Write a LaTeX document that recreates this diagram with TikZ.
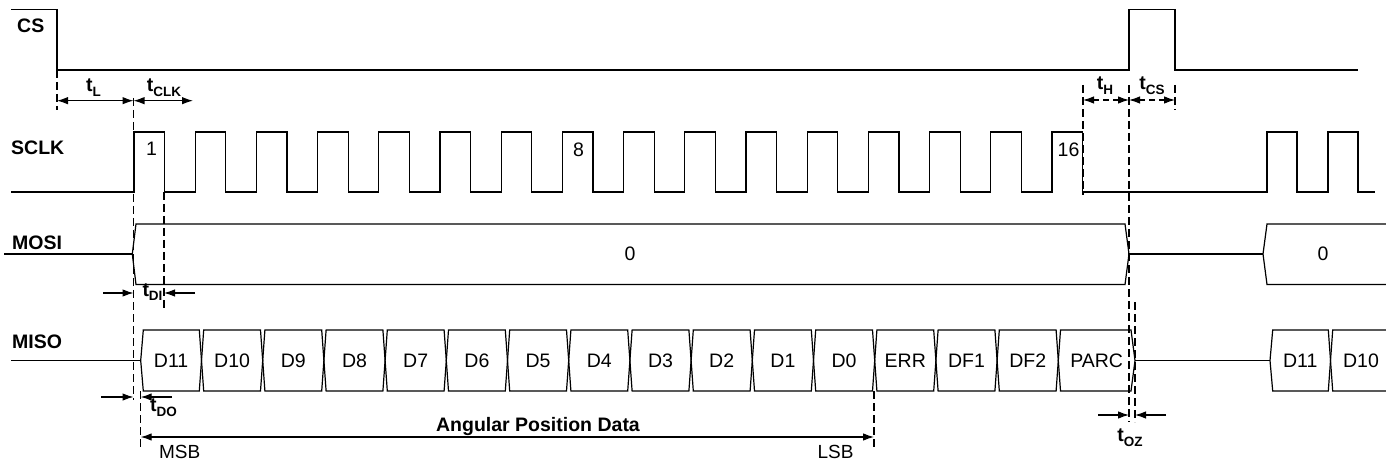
\documentclass[tikz,border=0pt]{standalone}
\usepackage{fontspec}
\setmainfont{Liberation Sans}
\usetikzlibrary{arrows.meta}
\newcommand{\tsb}[1]{\textbf{t}\raisebox{-4.5pt}{\fontsize{13.5}{14}\selectfont\bfseries #1}}
\begin{document}
\begin{tikzpicture}[x=1pt,y=-1pt,
  wave/.style={line width=1.2pt, line join=miter},
  guide/.style={line width=1.1pt, dash pattern=on 8pt off 4pt},
  dim/.style={line width=1.1pt, {Latex[length=11pt,width=7.5pt]}-{Latex[length=11pt,width=7.5pt]}},
  ddim/.style={dim, dash pattern=on 6pt off 4pt},
  pto/.style={line width=1.1pt, -{Latex[length=11pt,width=7.5pt]}},
  sig/.style={font=\fontsize{19.5}{22}\selectfont\bfseries, anchor=west, inner sep=0pt},
  val/.style={font=\fontsize{19.5}{22}\selectfont, inner sep=0pt},
  tl/.style={font=\fontsize{19.5}{22}\selectfont, inner sep=0pt, anchor=base},
]
\useasboundingbox (0,0) rectangle (1386,462);

% signal names
\node[sig] (ncs)   at (17,26)    {CS};
\node[sig] (nsclk) at (11,148)   {SCLK};
\node[sig] (nmosi) at (12,242.5) {MOSI};
\node[sig] (nmiso) at (12,341.5) {MISO};

% CS
\draw[wave] (11,9.5) -- (57,9.5) -- (57,70) -- (1129,70) -- (1129,9.5) -- (1175,9.5) -- (1175,70) -- (1358,70);

% SCLK
\draw[wave] (11,192) foreach \k in {0,...,15} { -- ({134+\k*61.2},192) -- ++(0,-60) -- ++(30.5,0) -- ++(0,60) }
  -- (1267,192) -- (1267,132) -- (1297,132) -- (1297,192) -- (1328,192) -- (1328,132) -- (1358,132) -- (1358,192) -- (1375,192);
\node[val] (c1)  at (151.5,149) {1};
\node[val] (c8)  at (578.5,149.5) {8};
\node[val] (c16) at (1068.5,150) {16};

% MOSI
\draw[wave] (4,254) -- (132.3,254);
\draw[wave] (132.3,254) -- (136,224) -- (1125,224) -- (1129,254) -- (1125,284.5) -- (136,284.5) -- cycle;
\node[val] (mosi0) at (630,254) {0};
\draw[wave] (1129,254) -- (1263,254);
\draw[wave] (1386,224) -- (1267,224) -- (1263,254) -- (1267,284.5) -- (1386,284.5);
\node[val] (mosi1) at (1323,254) {0};

% MISO
\draw[wave] (11,360.5) -- (140.7,360.5);
\foreach \lab [count=\i from 0] in {D11,D10,D9,D8,D7,D6,D5,D4,D3,D2,D1,D0,ERR,DF1,DF2,PARC} {
  \pgfmathsetmacro\L{\i==0 ? 140.7 : 201.5+(\i-1)*61.2}
  \pgfmathsetmacro\R{\i==15 ? 1135 : 201.5+\i*61.2}
  \pgfmathsetmacro\hl{\i==0 ? 2.6 : 2.2}
  \pgfmathsetmacro\hr{\i==15 ? 4 : 2.2}
  \draw[wave] (\L,360.5) -- (\L+\hl,330) -- (\R-\hr,330) -- (\R,360.5) -- (\R-\hr,391) -- (\L+\hl,391) -- cycle;
  \node[val] (miso\i) at ({(\L+\R)/2},360.5) {\lab};
}
\draw[wave] (1135,360.5) -- (1270,360.5);
\draw[wave] (1270,360.5) -- (1272.7,330) -- (1328.3,330) -- (1330.5,360.5) -- (1328.3,391) -- (1272.7,391) -- cycle;
\draw[wave] (1386,330) -- (1332.7,330) -- (1330.5,360.5) -- (1332.7,391) -- (1386,391);
\node[val] (misoA) at (1300.3,360.5) {D11};
\node[val] (misoB) at (1361,360.5) {D10};

% guide coordinates
\coordinate (gA1) at (57,70);     \coordinate (gA2) at (57,110);
\coordinate (gB1) at (133.5,98);  \coordinate (gB2) at (133.5,400);
\coordinate (gC1) at (164,192);   \coordinate (gC2) at (164,308);
\coordinate (gD1) at (140.7,391); \coordinate (gD2) at (140.7,447);
\coordinate (gE1) at (874,391);   \coordinate (gE2) at (874,447);
\coordinate (gF1) at (1083,85);   \coordinate (gF2) at (1083,195);
\coordinate (gG1) at (1129,85);   \coordinate (gG2) at (1129,422);
\coordinate (gH1) at (1175,85);   \coordinate (gH2) at (1175,110);
\coordinate (gI1) at (1135,302);  \coordinate (gI2) at (1135,422);
\foreach \g in {A,B,C,D,E,F,G,H,I} { \draw[guide] (g\g1) -- (g\g2); }

% dimension arrows
\coordinate (tL0) at (57,100.7);   \coordinate (tL1) at (133.5,100.7); \coordinate (tL2) at (193,100.7);
\draw[dim] (tL0) -- (tL1);
\draw[dim] (tL1) -- (tL2);
\node[tl] (ltL)   at (93.5,92) {\tsb{L}};
\node[tl] (ltCLK) at (164,92) {\tsb{CLK}};

\coordinate (tH0) at (1083,100); \coordinate (tH1) at (1129,100); \coordinate (tH2) at (1175,100);
\draw[ddim] (tH0) -- (tH1);
\draw[ddim] (tH1) -- (tH2);
\node[tl] (ltH)  at (1105,90) {\tsb{H}};
\node[tl] (ltCS) at (1152,90) {\tsb{CS}};

\coordinate (di0) at (103,293); \coordinate (di1) at (133.5,293);
\coordinate (di2) at (195,293); \coordinate (di3) at (164,293);
\draw[pto] (di0) -- (di1);
\draw[pto] (di2) -- (di3);
\node[tl] (ltDI) at (152.5,296) {\tsb{DI}};

\coordinate (do0) at (101,397); \coordinate (do1) at (133.5,397);
\coordinate (do2) at (172,397); \coordinate (do3) at (140.7,397);
\draw[pto] (do0) -- (do1);
\draw[pto] (do2) -- (do3);
\node[tl] (ltDO) at (163.5,411.7) {\tsb{DO}};

\coordinate (oz0) at (1098,415); \coordinate (oz1) at (1129,415);
\coordinate (oz2) at (1166,415); \coordinate (oz3) at (1135,415);
\draw[pto] (oz0) -- (oz1);
\draw[pto] (oz2) -- (oz3);
\node[tl] (ltOZ) at (1130,441.7) {\tsb{OZ}};

\coordinate (ap0) at (140.7,437); \coordinate (ap1) at (874,437);
\draw[dim] (ap0) -- (ap1);
\node[val, font=\fontsize{19.5}{22}\selectfont\bfseries] (apd) at (538,426.5) {Angular Position Data};
\node[val, font=\fontsize{19}{21}\selectfont] (msb) at (179.7,452) {MSB};
\node[val, font=\fontsize{19}{21}\selectfont] (lsb) at (835.5,452) {LSB};
\end{tikzpicture}
\end{document}
